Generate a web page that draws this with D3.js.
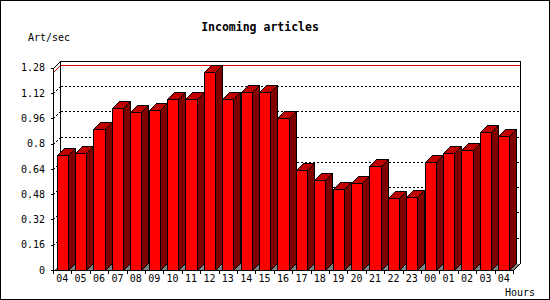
<!DOCTYPE html>
<html>
<head>
<meta charset="utf-8">
<script src="https://cdn.jsdelivr.net/npm/d3@7/dist/d3.min.js"></script>
<style>
  body { margin: 0; background: #fff; }
  svg { display: block; }
</style>
</head>
<body>
<div class="chartDiv"></div>
<script>
// hours, starting at 04 and wrapping round to 04 of the next day
var hours = ["04","05","06","07","08","09","10","11","12","13","14","15","16",
             "17","18","19","20","21","22","23","00","01","02","03","04"];
var artPerSec = [0.729, 0.742, 0.894, 1.027, 1.001, 1.014, 1.084, 1.084, 1.250,
                 1.084, 1.128, 1.124, 0.959, 0.630, 0.567, 0.510, 0.548, 0.656,
                 0.453, 0.460, 0.681, 0.738, 0.757, 0.871, 0.846];
var yTicks = [0, 0.16, 0.32, 0.48, 0.64, 0.8, 0.96, 1.12, 1.28];
var yTickLabels = ["0", "0.16", "0.32", "0.48", "0.64", "0.8", "0.96", "1.12", "1.28"];

var W = 550, H = 300;
var depth = 7;           // 3d offset, right and up
var left = 53, right = 513, bottom = 270;
var mono = "'DejaVu Sans Mono', 'Liberation Mono', monospace";

var svg = d3.select('.chartDiv').append('svg')
    .attr('width', W)
    .attr('height', H)
    .style('shape-rendering', 'crispEdges');

// outer frame
svg.append('rect')
    .attr('x', 0.5).attr('y', 0.5)
    .attr('width', W - 1).attr('height', H - 1)
    .attr('fill', '#fff').attr('stroke', '#000');

var x = d3.scaleBand()
    .domain(d3.range(hours.length))
    .range([left, right])
    .paddingInner(0.4)
    .paddingOuter(0.2);

var y = d3.scaleLinear()
    .domain([0, 1.28])
    .range([bottom, 67.6]);

var px = function(v) { return Math.round(v) + 0.5; };
var yMax = y.domain()[1];
var backL = left + depth, backR = right + depth;

// floor
svg.append('polygon')
    .attr('points', [[left, bottom], [right, bottom], [backR, bottom - depth], [backL, bottom - depth]]
        .map(function(p) { return px(p[0]) + ',' + px(p[1]); }).join(' '))
    .attr('fill', '#808080');

// dotted grid lines on the back wall and the left wall
var grid = svg.append('g').attr('class', 'grid');
yTicks.slice(1, -1).forEach(function(t) {
  var fy = px(y(t)), by = px(y(t) - depth);
  grid.append('line')
      .attr('x1', px(backL)).attr('x2', px(backR))
      .attr('y1', by).attr('y2', by)
      .attr('stroke', '#000').attr('stroke-dasharray', '2,2');
  grid.append('line')
      .attr('x1', px(left)).attr('y1', fy)
      .attr('x2', px(backL)).attr('y2', by)
      .attr('stroke', '#000').attr('stroke-dasharray', '2,2');
});

// red line at the maximum value
var maxV = d3.max(artPerSec);
svg.append('polyline')
    .attr('points', px(left) + ',' + px(y(maxV)) + ' ' + px(backL) + ',' + px(y(maxV) - depth) +
        ' ' + px(backR) + ',' + px(y(maxV) - depth))
    .attr('fill', 'none').attr('stroke', '#e00000');

// box: back wall edges, left axis, floor edge
var box = svg.append('g').attr('stroke', '#000').attr('fill', 'none');
box.append('polyline')
    .attr('points', [[backL, bottom - depth], [backL, y(yMax) - depth], [backR, y(yMax) - depth],
        [backR, bottom - depth], [right, bottom]]
        .map(function(p) { return px(p[0]) + ',' + px(p[1]); }).join(' '));
box.append('polyline')
    .attr('points', [[backL, y(yMax) - depth], [left, y(yMax)], [left, bottom], [right, bottom]]
        .map(function(p) { return px(p[0]) + ',' + px(p[1]); }).join(' '));

// bars
var bars = svg.append('g').attr('class', 'bars')
    .attr('stroke', '#000').attr('stroke-linejoin', 'miter');

artPerSec.forEach(function(v, i) {
  var x0 = px(x(i)), x1 = px(x(i) + x.bandwidth()), yt = px(y(v)), yb = px(bottom);
  var g = bars.append('g');
  g.append('polygon')   // front
      .attr('points', [x0 + ',' + yt, x1 + ',' + yt, x1 + ',' + yb, x0 + ',' + yb].join(' '))
      .attr('fill', '#ff0000');
  g.append('polygon')   // side
      .attr('points', [x1 + ',' + yt, (x1 + depth) + ',' + (yt - depth),
          (x1 + depth) + ',' + (yb - depth), x1 + ',' + yb].join(' '))
      .attr('fill', '#800000');
  g.append('polygon')   // top
      .attr('points', [x0 + ',' + yt, (x0 + depth) + ',' + (yt - depth),
          (x1 + depth) + ',' + (yt - depth), x1 + ',' + yt].join(' '))
      .attr('fill', '#c00000');
});

// y axis labels
var yAxis = svg.append('g')
    .attr('transform', 'translate(' + left + ',0)')
    .call(d3.axisLeft(y)
        .tickValues(yTicks)
        .tickSize(2)
        .tickPadding(6)
        .tickFormat(function(d, i) { return yTickLabels[i]; }));
yAxis.select('.domain').remove();
yAxis.selectAll('text')
    .attr('font-family', mono).attr('font-size', 10).attr('fill', '#000');
yAxis.selectAll('line').attr('stroke', '#000');

// x axis labels and band ticks
var xAxis = svg.append('g')
    .attr('transform', 'translate(0,' + bottom + ')')
    .call(d3.axisBottom(x)
        .tickSize(0)
        .tickPadding(5)
        .tickFormat(function(d) { return hours[d]; }));
xAxis.select('.domain').remove();
xAxis.selectAll('text')
    .attr('font-family', mono).attr('font-size', 10).attr('fill', '#000');

svg.append('g').selectAll('line')
    .data(d3.range(hours.length + 1))
    .enter().append('line')
      .attr('x1', function(d) { return px(left + d * x.step()); })
      .attr('x2', function(d) { return px(left + d * x.step()); })
      .attr('y1', bottom + 1).attr('y2', bottom + 4)
      .attr('stroke', '#000');

// titles
svg.append('text')
    .attr('x', 260).attr('y', 31)
    .attr('text-anchor', 'middle')
    .attr('font-family', mono).attr('font-size', 11.5).attr('font-weight', 'bold')
    .text('Incoming articles');
svg.append('text')
    .attr('x', 28).attr('y', 41)
    .attr('font-family', mono).attr('font-size', 10)
    .text('Art/sec');
svg.append('text')
    .attr('x', 505).attr('y', 296)
    .attr('font-family', mono).attr('font-size', 10)
    .text('Hours');
</script>
</body>
</html>
